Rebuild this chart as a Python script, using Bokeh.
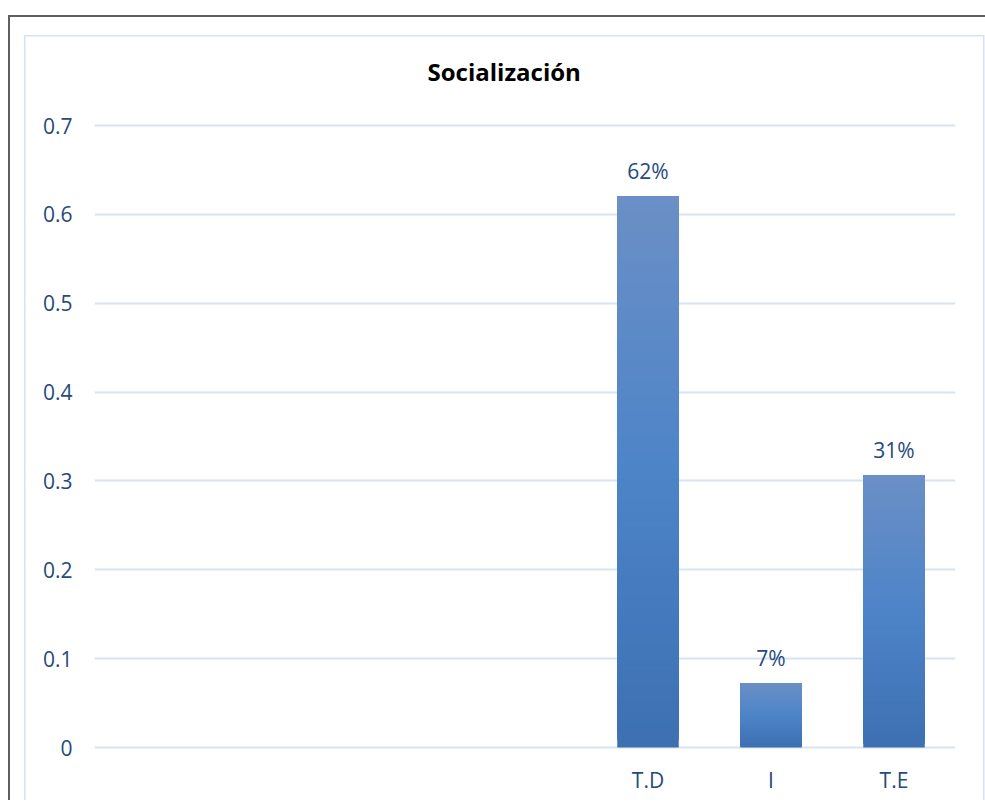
import numpy as np
from bokeh.plotting import figure
from bokeh.models import FactorRange, Range1d, FixedTicker, NumeralTickFormatter, Styles
from bokeh.core.properties import value
from bokeh.embed import file_html
from bokeh.resources import INLINE

# ---- data ----
title_text = "Socialización"
categories = [" ", "  ", "   ", "    ", "T.D", "I", "T.E"]
values = [None, None, None, None, 0.62, 0.072, 0.306]
y_ticks = [0, 0.1, 0.2, 0.3, 0.4, 0.5, 0.6, 0.7]

# ---- layout ----
W, H = 985, 800
PAD = 2                      # px of frame beyond first/last gridline
F_TOP, F_BOT = 125 - PAD, 747 + PAD
ML, MR, MT, MB = 94, 30, F_TOP, H - F_BOT
FONT = "Open Sans"
TXT = "#254a7c"
GRID = "#d9e4f2"
span = y_ticks[-1] - y_ticks[0]
pad_v = PAD * span / (747 - 125)

p = figure(width=W, height=H, x_range=FactorRange(*categories),
           y_range=Range1d(y_ticks[0] - pad_v, y_ticks[-1] + pad_v),
           output_backend="svg", toolbar_location=None,
           min_border_left=ML, min_border_right=MR,
           min_border_top=MT, min_border_bottom=MB)
p.background_fill_color = "white"
p.border_fill_color = None
p.outline_line_color = None

# chart-area borders drawn as the host element's background (shows through transparent border fill)
dark, light = "#5f5f5f", "#d6e2f2"
g = lambda c: "linear-gradient(%s, %s)" % (c, c)
p.styles = Styles(
    background_color="white",
    background_image=", ".join([g(dark), g(dark), g(light), g(light), g(light)]),
    background_position="8px 15px, 8px 15px, 24px 35px, 24px 35px, 983px 35px",
    background_size="2px 2000px, 2000px 2px, 1.5px 2000px, 960px 1.5px, 1.5px 2000px",
    background_repeat="no-repeat",
)

# title
p.title.text = title_text
p.title.align = "left"
p.title.offset = 333
p.title.text_font = FONT
p.title.text_font_style = "bold"
p.title.text_font_size = "24px"
p.title.text_color = "black"
p.title.standoff = 72

# axes
p.yaxis.ticker = FixedTicker(ticks=y_ticks)
p.yaxis.formatter = NumeralTickFormatter(format="0.[0]")
for ax in (p.xaxis[0], p.yaxis[0]):
    ax.axis_line_color = None
    ax.major_tick_line_color = None
    ax.minor_tick_line_color = None
    ax.major_tick_out = 0
    ax.major_tick_in = 0
    ax.major_label_text_font = FONT
    ax.major_label_text_font_size = "21px"
    ax.major_label_text_color = TXT
p.yaxis.major_label_standoff = 22
p.xaxis.major_label_standoff = 16

p.xgrid.grid_line_color = None
p.ygrid.grid_line_color = GRID
p.ygrid.grid_line_width = 2

# gradient bars (drawn as stacked bands from the data values)
stops_t = [0.0, 0.5, 1.0]
stops_c = [(60, 112, 178), (77, 132, 200), (107, 143, 198)]
N = 80
xs, bots, tops, cols = [], [], [], []
for c, v in zip(categories, values):
    if v is None:
        continue
    for i in range(N):
        t = (i + 0.5) / N
        rgb = [int(round(np.interp(t, stops_t, [s[k] for s in stops_c]))) for k in range(3)]
        xs.append(c)
        bots.append(v * i / N)
        tops.append(v)
        cols.append("#%02x%02x%02x" % tuple(rgb))
p.vbar(x=xs, bottom=bots, top=tops, width=0.5, fill_color=cols, line_color=None)

# data labels
lab_x = [c for c, v in zip(categories, values) if v is not None]
lab_y = [v for v in values if v is not None]
lab_t = ["%d%%" % round(v * 100) for v in lab_y]
p.text(x=lab_x, y=lab_y, text=lab_t, text_align="center", text_baseline="middle",
       y_offset=-26, text_font=value(FONT), text_font_size="21px", text_color=TXT)

open("out.html", "w").write(file_html(p, INLINE))
